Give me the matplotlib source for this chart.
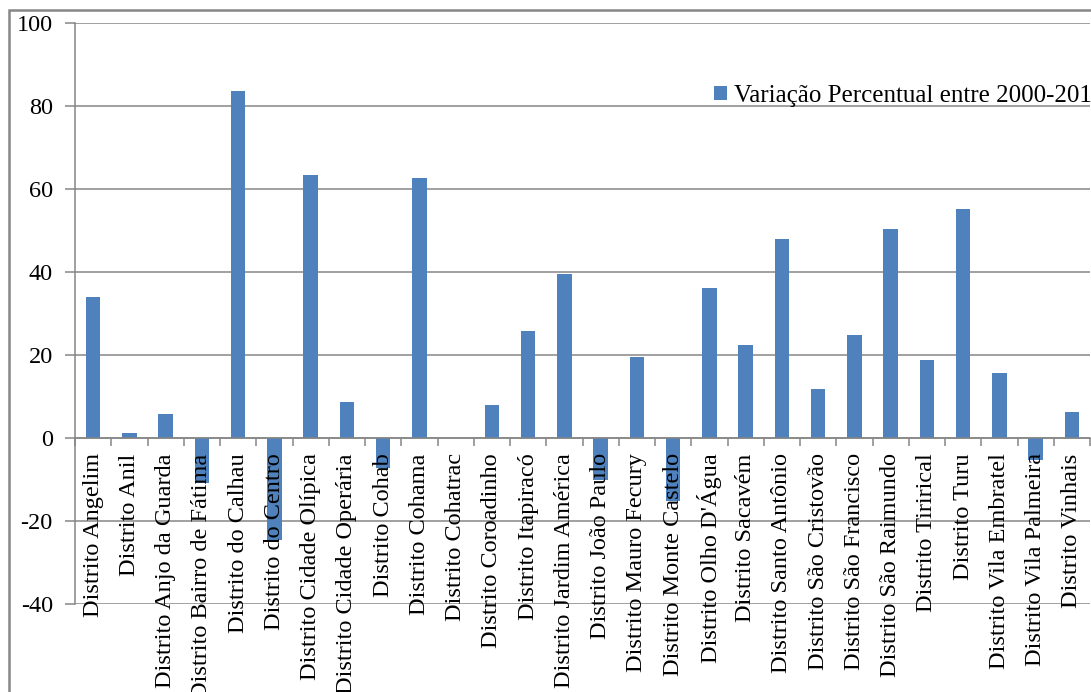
import numpy as np
import matplotlib.pyplot as plt
from matplotlib.patches import Rectangle

plt.rcParams['font.family'] = ['Liberation Serif', 'DejaVu Serif']

# Districts and their percentage change in population, 2000-2010
districts = [
    "Distrito Angelim", "Distrito Anil", "Distrito Anjo da Guarda",
    "Distrito Bairro de Fátima", "Distrito do Calhau", "Distrito do Centro",
    "Distrito Cidade Olípica", "Distrito Cidade Operária", "Distrito Cohab",
    "Distrito Cohama", "Distrito Cohatrac", "Distrito Coroadinho",
    "Distrito Itapiracó", "Distrito Jardim América", "Distrito João Paulo",
    "Distrito Mauro Fecury", "Distrito Monte Castelo", "Distrito Olho D'Água",
    "Distrito Sacavém", "Distrito Santo Antônio", "Distrito São Cristovão",
    "Distrito São Francisco", "Distrito São Raimundo", "Distrito Tirirical",
    "Distrito Turu", "Distrito Vila Embratel", "Distrito Vila Palmeira",
    "Distrito Vinhais",
]
variacao = [
    34.0, 1.1, 5.7, -10.9, 83.7, -24.6, 63.4, 8.7, -7.3, 62.6,
    0.0, 7.9, 25.9, 39.4, -10.1, 19.4, -15.1, 36.1, 22.5, 47.9,
    11.8, 24.7, 50.4, 18.9, 55.3, 15.7, -5.3, 6.2,
]
serie_nome = "Variação Percentual entre 2000-2010"
y_ticks = [-40, -20, 0, 20, 40, 60, 80, 100]

BAR_COLOR = "#4F81BD"
LINE_COLOR = "#868686"
FS = 17.5

fig = plt.figure(figsize=(10.91, 6.92), dpi=100)
W, H = 1091, 692
ax = fig.add_axes([75 / W, 1 - 604 / H, 1015 / W, 581 / H])

# category axis sits on the zero line (set before ticks, it resets them)
for side in ('top', 'right'):
    ax.spines[side].set_visible(False)
ax.spines['bottom'].set_position(('data', 0))
for side in ('left', 'bottom'):
    ax.spines[side].set_color(LINE_COLOR)
    ax.spines[side].set_linewidth(1.1)

x = np.arange(len(districts))
ax.bar(x, variacao, width=0.4, color=BAR_COLOR, zorder=1, label=serie_nome)

# horizontal gridlines behind the bars
for v in y_ticks:
    ax.axhline(v, color=LINE_COLOR, lw=1.1, zorder=0.3)

ax.set_xlim(-0.5, len(districts) - 0.5)
ax.set_ylim(-40, 100)
ax.set_yticks(y_ticks)
ax.set_yticklabels([str(v) for v in y_ticks], fontsize=FS)

ax.set_xticks(x)
ax.set_xticklabels(districts, rotation=90, fontsize=FS, ha='center', va='top')
ax.set_xticks(np.arange(len(districts) + 1) - 0.5, minor=True)
ax.tick_params(axis='x', which='major', length=0, pad=11)
ax.tick_params(axis='x', which='minor', length=6, color=LINE_COLOR, width=1.1)
ax.tick_params(axis='y', length=7, color=LINE_COLOR, width=1.1, pad=9)
ax.xaxis.set_zorder(2.5)
ax.yaxis.set_zorder(2.5)

leg = ax.legend(loc='center left', bbox_to_anchor=(714 / W, 1 - 96 / H),
                bbox_transform=fig.transFigure, frameon=False, fontsize=18,
                handlelength=0.5, handleheight=0.5, handletextpad=0.3,
                borderaxespad=0, borderpad=0)

# chart area border
fig.patches.append(Rectangle((9 / W, -0.1), 1.2, 1 - 10 / H + 0.1,
                             transform=fig.transFigure, fill=False,
                             edgecolor=LINE_COLOR, lw=1.8))

fig.savefig("out.png", dpi=100)
